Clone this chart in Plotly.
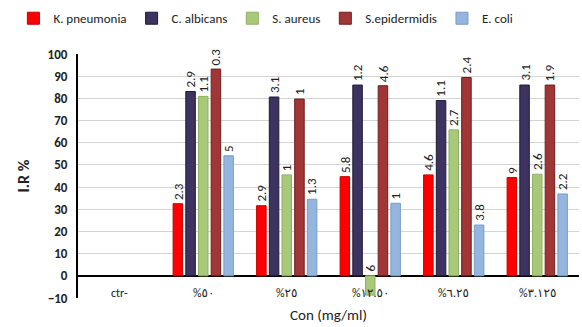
import plotly.graph_objects as go

categories = ["ctr-", "%٥٠", "%٢٥", "%١٢.٥٠", "%٦.٢٥", "%٣.١٢٥"]
series_names = ["K. pneumonia", "C. albicans", "S. aureus", "S.epidermidis", "E. coli"]
k_pneumonia = [None, 32.5, 31.6, 44.7, 45.5, 44.3]
c_albicans = [None, 83.1, 80.6, 86.0, 79.0, 86.0]
s_aureus = [None, 80.9, 45.5, -8.7, 65.8, 45.8]
s_epidermidis = [None, 93.2, 79.7, 85.7, 89.4, 86.0]
e_coli = [None, 54.1, 34.5, 32.7, 22.9, 36.9]
k_labels = ["", "2.3", "2.9", "5.8", "4.6", "9"]
c_labels = ["", "2.9", "3.1", "1.2", "1.1", "3.1"]
sa_labels = ["", "1.1", "1", "6", "2.7", "2.6"]
se_labels = ["", "0.3", "1", "4.6", "2.4", "1.9"]
e_labels = ["", "5", "1.3", "1", "3.8", "2.2"]
y_ticks = [-10, 0, 10, 20, 30, 40, 50, 60, 70, 80, 90, 100]

values = [k_pneumonia, c_albicans, s_aureus, s_epidermidis, e_coli]
labels = [k_labels, c_labels, sa_labels, se_labels, e_labels]
fills = ["#FF0000", "#3D3361", "#A8C97A", "#A03636", "#93B5DE"]
borders = ["#C00000", "#1E1A36", "#8FB060", "#6E1E1E", "#7A9CC6"]

FONT = "Carlito, Lato, 'DejaVu Sans', sans-serif"

fig = go.Figure()
n = len(series_names)
for i in range(n):
    fig.add_trace(go.Bar(
        name=series_names[i], x=categories, y=values[i],
        marker=dict(color=fills[i], line=dict(color=borders[i], width=1)),
        offsetgroup=str(i),
    ))

# rotated value labels above each bar
group_w = 1 - 0.24
slot = group_w / n
for i in range(n):
    for j, c in enumerate(categories):
        v = values[i][j]
        if v is None:
            continue
        fig.add_annotation(
            x=j - group_w / 2 + slot * (i + 0.5), y=max(v, 0), xref="x", yref="y",
            text=labels[i][j], showarrow=False, textangle=-90,
            yanchor="bottom", xanchor="center", yshift=2,
            font=dict(family=FONT, size=13, color="#222222"),
        )

# category labels sitting on the bottom gridline
for j, c in enumerate(categories):
    fig.add_annotation(
        x=j, y=-10, xref="x", yref="y", text=c, showarrow=False,
        yanchor="middle", yshift=5,
        font=dict(family=FONT, size=12, color="#222222"),
    )

# x-axis title
fig.add_annotation(
    x=0.5, y=0, xref="paper", yref="paper", text="Con (mg/ml)", showarrow=False,
    yanchor="top", yshift=-6, font=dict(family=FONT, size=15, color="#222222"),
)

fig.update_layout(
    width=582, height=327, autosize=False,
    margin=dict(l=78, r=3, t=54, b=29, autoexpand=False),
    paper_bgcolor="white", plot_bgcolor="white",
    barmode="group", bargap=0.24, bargroupgap=0.25,
    font=dict(family=FONT, color="#222222"),
    legend=dict(orientation="h", x=0.375, xanchor="center", y=0.99, yanchor="top",
                yref="container", font=dict(family=FONT, size=13, color="#222222"),
                itemwidth=30, traceorder="normal"),
    showlegend=True,
)
fig.update_xaxes(
    type="category", showticklabels=False, showgrid=False, ticks="",
    showline=False, zeroline=False, range=[-0.5, 5.5], automargin=False,
)
fig.update_yaxes(
    range=[-10, 100], tickvals=y_ticks, showgrid=True, gridcolor="#D4D4D4", gridwidth=1,
    zeroline=True, zerolinecolor="#000000", zerolinewidth=2,
    showline=True, linecolor="#000000", linewidth=2, automargin=False,
    tickfont=dict(family=FONT, size=13, color="#222222", weight="bold"),
    ticks="", ticklabelstandoff=6,
    title=dict(text="I.R %", font=dict(family=FONT, size=16, color="#222222", weight="bold"), standoff=14),
)

fig.write_html("out.html")
